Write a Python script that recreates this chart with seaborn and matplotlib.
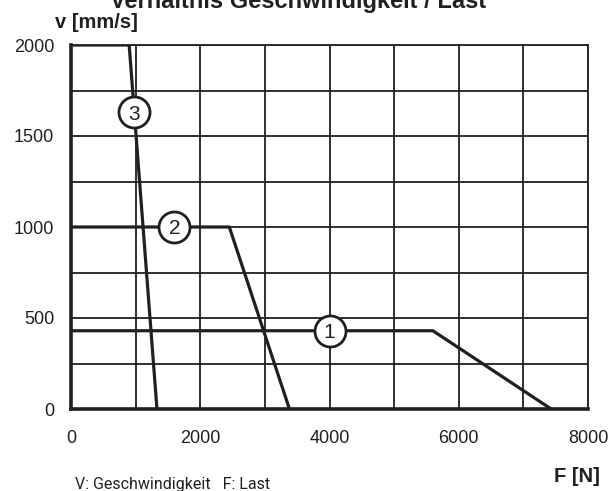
import pandas as pd
import seaborn as sns
import matplotlib.pyplot as plt

# curve data: force F [N] vs speed v [mm/s]
curve_ids = ["1", "2", "3"]
force_1 = [0, 5600, 7430]
speed_1 = [430, 430, 0]
force_2 = [0, 2450, 3380]
speed_2 = [1000, 1000, 0]
force_3 = [0, 900, 1330]
speed_3 = [2000, 2000, 0]

# circle label positions on each curve
label_force = [4000, 1600, 975]
label_speed = [430, 1000, 1630]

df = pd.concat([
    pd.DataFrame({"F": force_1, "v": speed_1, "curve": "1"}),
    pd.DataFrame({"F": force_2, "v": speed_2, "curve": "2"}),
    pd.DataFrame({"F": force_3, "v": speed_3, "curve": "3"}),
])

sns.set_theme(style="white")
plt.rcParams['font.family'] = ['Liberation Sans', 'DejaVu Sans']

fig = plt.figure(figsize=(6.08, 4.91), dpi=100)
ax = fig.add_axes([71 / 608, 1 - 409 / 491, 517 / 608, 364 / 491])

sns.lineplot(data=df, x="F", y="v", units="curve", estimator=None, sort=False,
             color="#231f20", linewidth=2.3, ax=ax, zorder=3)

ax.scatter(label_force, label_speed, s=500, facecolor="white",
           edgecolor="#231f20", linewidth=2.0, zorder=4)
for cid, fx, vy in zip(curve_ids, label_force, label_speed):
    ax.text(fx, vy, cid, ha="center", va="center_baseline", fontsize=15,
            color="#231f20", zorder=5)

ax.set_xlim(0, 8000)
ax.set_ylim(0, 2000)
ax.set_xticks(range(0, 8001, 2000))
ax.set_yticks(range(0, 2001, 500))
ax.set_xticks(range(0, 8001, 1000), minor=True)
ax.set_yticks(range(0, 2001, 250), minor=True)
ax.grid(which="both", color="#231f20", linewidth=1.3)
ax.set_axisbelow(True)
ax.tick_params(axis="both", which="both", length=0, labelsize=13,
               labelcolor="#231f20")
ax.tick_params(axis="x", pad=15)
ax.tick_params(axis="y", pad=12)
ax.set_xlabel("")
ax.set_ylabel("")

for side in ["left", "bottom"]:
    ax.spines[side].set_linewidth(2.6)
    ax.spines[side].set_color("#231f20")
for side in ["top", "right"]:
    ax.spines[side].set_linewidth(1.3)
    ax.spines[side].set_color("#231f20")

# title sits partly above the top edge, as in the source image
fig.text(298 / 608, 1 - 8 / 491, "Verhältnis Geschwindigkeit / Last",
         ha="center", va="baseline", fontsize=17, fontweight="bold",
         color="#231f20")
fig.text(55 / 608, 1 - 22 / 491, "v [mm/s]", ha="left", va="center",
         fontsize=14.5, fontweight="bold", color="#231f20")
fig.text(600 / 608, 1 - 477 / 491, "F [N]", ha="right", va="center",
         fontsize=14.5, fontweight="bold", color="#231f20")
fig.text(75 / 608, 1 - 484 / 491, "V: Geschwindigkeit   F: Last",
         ha="left", va="center", fontsize=11.5, color="#231f20",
         family=["Roboto", "Liberation Sans", "DejaVu Sans"])

fig.savefig("out.png", dpi=100)
